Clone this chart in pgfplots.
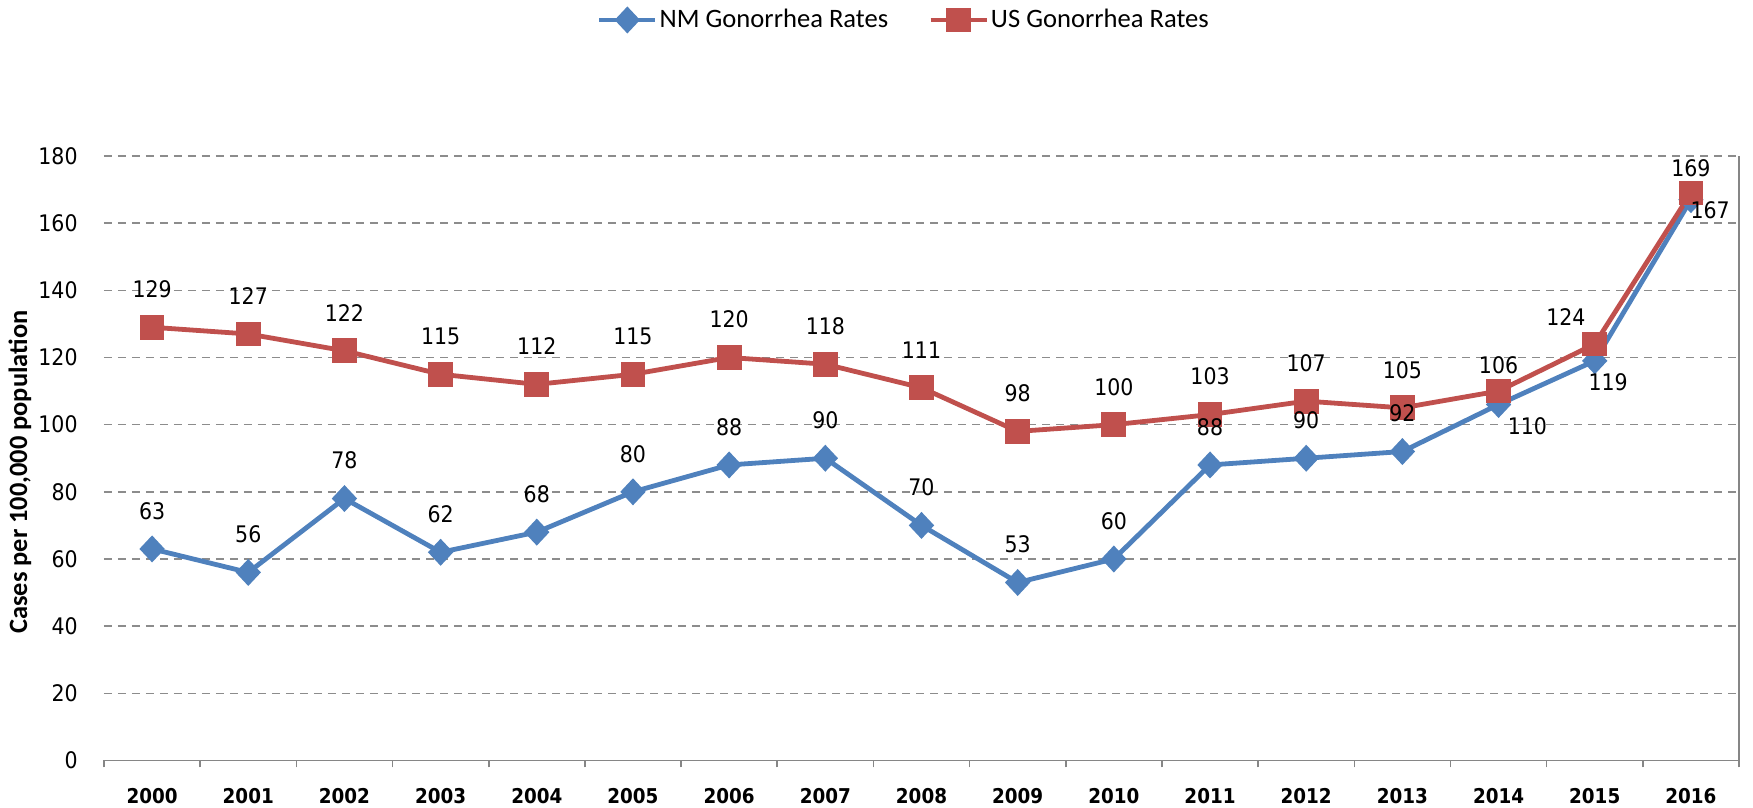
\documentclass[border=0pt]{standalone}
\usepackage{pgfplots}
\usepackage{pgfplotstable}
\pgfplotsset{compat=1.18}
\usepackage{fontspec}
\setmainfont{Carlito}
\newfontfamily\dvc{DejaVu Sans Condensed}
\definecolor{nmblue}{HTML}{4F81BD}
\definecolor{usred}{HTML}{C0504D}
\definecolor{gridgray}{HTML}{8C8C8C}
\definecolor{axgray}{HTML}{868686}

\pgfplotstableread{
x y
0 63
1 56
2 78
3 62
4 68
5 80
6 88
7 90
8 70
9 53
10 60
11 88
12 90
13 92
14 106
15 119
16 167
}\nmdata

\pgfplotstableread{
x y
0 129
1 127
2 122
3 115
4 112
5 115
6 120
7 118
8 111
9 98
10 100
11 103
12 107
13 105
14 110
15 124
16 169
}\usdata

\pgfplotstableread{
x y t
0 140.3 129
1 138.3 127
2 133.3 122
3 126.3 115
4 123.3 112
5 126.3 115
6 131.3 120
7 129.3 118
8 122.3 111
9 109.3 98
10 111.3 100
11 114.3 103
12 118.3 107
13 116.3 105
14.0 117.6 106
14.7 132 124
16.0 176.4 169
0 74.3 63
1 67.3 56
2 89.3 78
3 73.3 62
4 79.3 68
5 91.3 80
6 99.3 88
7 101.3 90
8 81.3 70
9 64.3 53
10 71.3 60
11 99.3 88
12 101.3 90
13 103.3 92
14.3 99.5 110
15.14 112.5 119
16.2 164 167
}\labels

\begin{document}
\begin{tikzpicture}
\begin{axis}[
  scale only axis, width=817.5pt, height=302.25pt,
  at={(0,0)}, anchor=south west,
  xmin=-0.5, xmax=16.5, ymin=0, ymax=180,
  clip=false,
  xtick={0,1,...,16},
  xticklabels={2000,2001,2002,2003,2004,2005,2006,2007,2008,2009,2010,2011,2012,2013,2014,2015,2016},
  ytick={0,20,...,180},
  minor xtick={-0.5,0.5,...,16.5},
  major tick length=0pt,
  minor tick length=3.5pt,
  tick align=outside,
  tick pos=left,
  minor tick style={axgray, line width=0.8pt},
  axis line style={draw=none},
  ymajorgrids,
  grid style={gridgray, dash pattern=on 4pt off 3pt, line width=0.75pt},
  /pgf/number format/assume math mode=true,
  yticklabel style={font=\dvc\fontsize{11.4}{13}\selectfont, anchor=east, inner sep=0pt, xshift=-13pt},
  xticklabel style={font=\dvc\bfseries\fontsize{10.2}{12}\selectfont, anchor=north, inner sep=0pt, yshift=-13.5pt},
  ylabel={Cases per 100,000 population},
  ylabel style={font=\bfseries\fontsize{13.2}{15}\selectfont, at={(axis description cs:-0.0514,0.477)}, anchor=center},
  legend columns=2,
  legend style={at={(axis description cs:0.3015,1.225)}, anchor=west, draw=none,
    inner sep=0pt, outer sep=0pt,
    font=\fontsize{13.3}{15}\selectfont,
    nodes={inner xsep=1pt},
    /tikz/every even column/.append style={column sep=19pt}},
  legend image code/.code={\draw[mark repeat=2, mark phase=2] plot coordinates {(0pt,0pt) (14pt,0pt) (28pt,0pt)};},
]
\draw[axgray, line width=0.8pt] (rel axis cs:0,0) -- (rel axis cs:1,0) -- (rel axis cs:1,1);
\addplot[nmblue, line width=2.4pt, mark=diamond*, mark size=5pt, mark options={xscale=1.25, solid, fill=nmblue}] table[x=x,y=y] {\nmdata};
\addlegendentry{NM Gonorrhea Rates}
\addplot[usred, line width=2.4pt, mark=square*, mark size=5pt, mark options={solid, fill=usred}] table[x=x,y=y] {\usdata};
\addlegendentry{US Gonorrhea Rates}
\addplot[draw=none, mark=none, forget plot, nodes near coords, point meta=explicit symbolic,
  nodes near coords style={anchor=center, inner sep=0pt, font=\dvc\fontsize{11.4}{13}\selectfont, text=black}]
  table[x=x,y=y,meta=t] {\labels};
\end{axis}
\pgfresetboundingbox
\path (-52pt,-23.5pt) rectangle (824.5pt,380.25pt);
\end{tikzpicture}
\end{document}
